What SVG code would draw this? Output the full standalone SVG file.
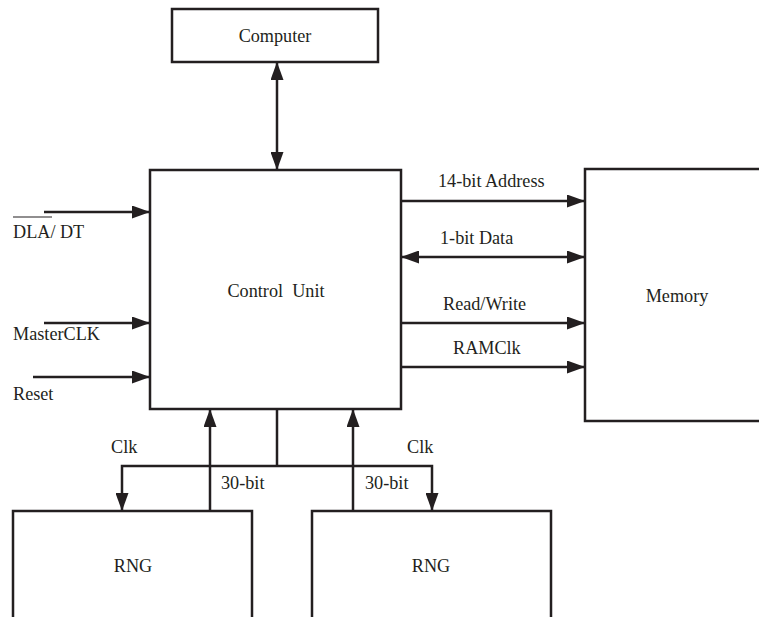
<svg xmlns="http://www.w3.org/2000/svg" width="759" height="617" viewBox="0 0 759 617">
<defs>
<style>
.box{fill:#fff;stroke:#231f20;stroke-width:2.5}
.ln{fill:none;stroke:#231f20;stroke-width:2.5}
.ah{marker-end:url(#arr)}
.bi{marker-start:url(#arr);marker-end:url(#arr)}
text{font-family:'Liberation Serif',serif;font-size:18.2px;fill:#231f20}
.c{text-anchor:middle}
</style>
<marker id="arr" markerUnits="userSpaceOnUse" markerWidth="18" markerHeight="13" refX="18" refY="6.5" orient="auto-start-reverse" viewBox="0 0 18 13">
<path d="M0,0 L18,6.5 L0,13 z" fill="#231f20"/>
</marker>
</defs>
<rect width="759" height="617" fill="#fff"/>
<g font-family="'Liberation Serif', serif">
<g id="connectors">
<line class="ln bi" x1="277" y1="62" x2="277" y2="170"/>
<line class="ln ah" x1="44" y1="212" x2="150" y2="212"/>
<line class="ln ah" x1="44" y1="323" x2="150" y2="323"/>
<line class="ln ah" x1="33" y1="377" x2="150" y2="377"/>
<line class="ln ah" x1="401" y1="201" x2="585" y2="201"/>
<line class="ln bi" x1="401" y1="257" x2="585" y2="257"/>
<line class="ln ah" x1="401" y1="323" x2="585" y2="323"/>
<line class="ln ah" x1="401" y1="367" x2="585" y2="367"/>
<line class="ln ah" x1="210" y1="511" x2="210" y2="409"/>
<line class="ln ah" x1="353" y1="511" x2="353" y2="409"/>
<polyline class="ln" points="277,409 277,466"/>
<path class="ln ah" d="M277,466 H122 V511"/>
<path class="ln ah" d="M277,466 H432 V511"/>
<text x="111" y="453">Clk</text>
<text x="407" y="453">Clk</text>
<text x="221" y="489">30-bit</text>
<text x="365" y="489">30-bit</text>
<text x="438" y="187">14-bit Address</text>
<text x="440" y="244">1-bit Data</text>
<text x="443" y="310">Read/Write</text>
<text x="453" y="354">RAMClk</text>
<text x="13" y="238">DLA/ DT</text>
<line x1="13" y1="217" x2="52" y2="217" stroke="#231f20" stroke-width="1.2"/>
<text x="13" y="340">MasterCLK</text>
<text x="13" y="400">Reset</text>
</g>
<g id="computer">
<rect class="box" x="172" y="9" width="206" height="53"/>
<text class="c" x="275" y="42">Computer</text>
</g>
<g id="control-unit">
<rect class="box" x="150" y="170" width="251" height="239"/>
<text class="c" x="276" y="297" xml:space="preserve">Control  Unit</text>
</g>
<g id="memory">
<rect class="box" x="585" y="169" width="230" height="252"/>
<text class="c" x="677" y="302">Memory</text>
</g>
<g id="rng1">
<rect class="box" x="13" y="511" width="239" height="120"/>
<text class="c" x="133" y="572">RNG</text>
</g>
<g id="rng2">
<rect class="box" x="312" y="511" width="239" height="120"/>
<text class="c" x="431" y="572">RNG</text>
</g>
</g>
</svg>
